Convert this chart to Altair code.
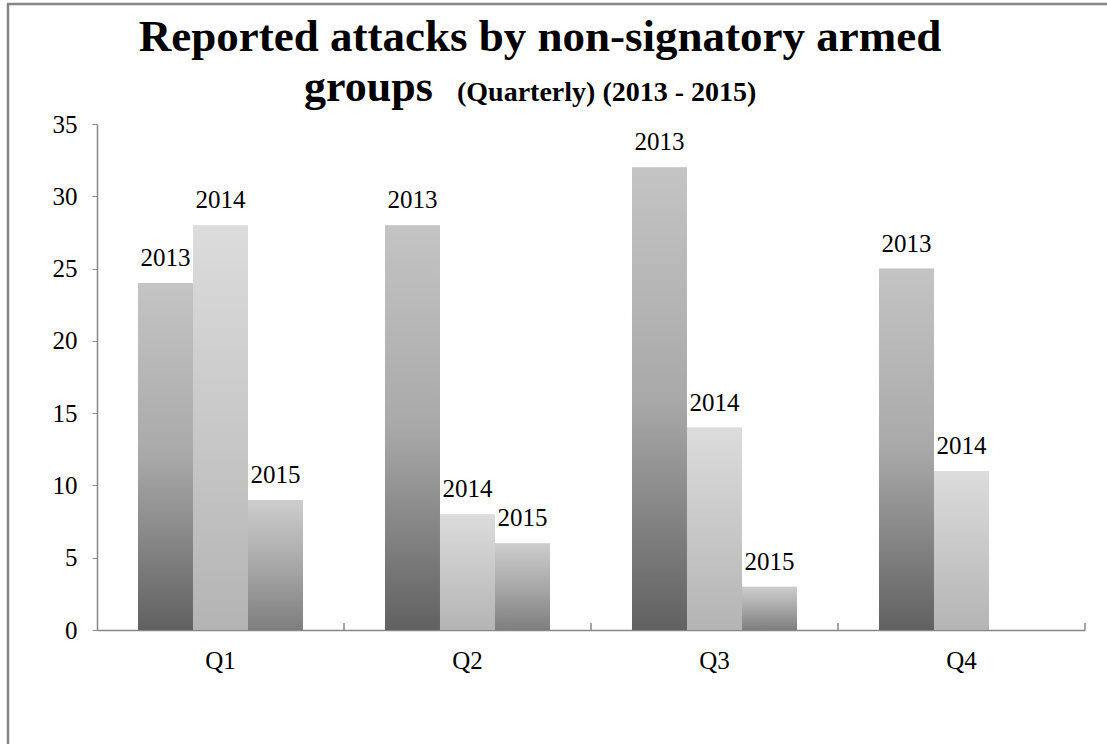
import altair as alt
import pandas as pd

quarters = ["Q1", "Q2", "Q3", "Q4"]
years = ["2013", "2014", "2015"]
values_2013 = [24, 28, 32, 25]
values_2014 = [28, 8, 14, 11]
values_2015 = [9, 6, 3, None]

title_line1 = "Reported attacks by non-signatory armed"
title_line2a = "groups"
title_line2b = "(Quarterly) (2013 - 2015)"

rows = []
for yr, vals in zip(years, [values_2013, values_2014, values_2015]):
    for q, v in zip(quarters, vals):
        if v is not None:
            rows.append({"q": q, "year": yr, "v": v})
df = pd.DataFrame(rows)
qdf = pd.DataFrame({"q": quarters})

W, H = 988, 506
L, T = 97, 124
FONT = "Liberation Serif"
AXC = "#868686"

gradients = {
    "2013": [("#c4c4c4", 0), ("#a9a9a9", 0.5), ("#616161", 1)],
    "2014": [("#dcdcdc", 0), ("#b4b4b4", 1)],
    "2015": [("#cdcdcd", 0), ("#a8a8a8", 0.5), ("#7e7e7e", 1)],
}

x_enc = alt.X("q:N", sort=quarters,
              scale=alt.Scale(domain=quarters, paddingInner=0, paddingOuter=0),
              axis=alt.Axis(title=None, ticks=False, domainColor=AXC, domainWidth=1.5,
                            labelFont=FONT, labelFontSize=25, labelColor="black",
                            labelPadding=18, labelAngle=0))
xo_enc = alt.XOffset("year:N", scale=alt.Scale(domain=years, paddingInner=0, paddingOuter=0.745))
y_enc = alt.Y("v:Q", scale=alt.Scale(domain=[0, 35], nice=False),
              axis=alt.Axis(title=None, values=list(range(0, 36, 5)), grid=False,
                            domainColor=AXC, domainWidth=1.5, tickColor=AXC, tickSize=5,
                            labelFont=FONT, labelFontSize=25, labelColor="black",
                            labelPadding=15))

base = alt.Chart(df)

shadow = base.mark_bar(color="#e8e8e8", xOffset=3).encode(x=x_enc, xOffset=xo_enc, y=y_enc)

layers = [shadow]
for yr in years:
    stops = [alt.GradientStop(color=c, offset=o) for c, o in gradients[yr]]
    layers.append(
        base.transform_filter(alt.datum.year == yr).mark_bar(
            color=alt.LinearGradient(gradient="linear", stops=stops, x1=0, x2=0, y1=0, y2=1)
        ).encode(x=x_enc, xOffset=xo_enc, y=y_enc)
    )

labels = base.mark_text(font=FONT, fontSize=25, baseline="alphabetic", dy=-17, color="black").encode(
    x=x_enc, xOffset=xo_enc, y=y_enc, text="year:N")

xticks = alt.Chart(qdf).mark_rule(color=AXC, strokeWidth=1.5).encode(
    x=alt.X("q:N", sort=quarters, bandPosition=1),
    y=alt.value(H - 7), y2=alt.value(H))

one = pd.DataFrame({"a": [0]})
frame_left = alt.Chart(one).mark_rule(color="#858585", strokeWidth=2.5).encode(
    x=alt.value(8 - L), y=alt.value(3 - T), y2=alt.value(744 - T))
frame_top = alt.Chart(one).mark_rule(color="#858585", strokeWidth=2.5).encode(
    x=alt.value(7 - L), x2=alt.value(1107 - L), y=alt.value(4 - T))

t1 = alt.Chart(pd.DataFrame({"t": [title_line1]})).mark_text(
    font=FONT, fontSize=45, fontWeight="bold", align="center", baseline="alphabetic", color="black"
).encode(x=alt.value(540 - L), y=alt.value(51 - T), text="t:N")
t2 = alt.Chart(pd.DataFrame({"t": [title_line2a]})).mark_text(
    font=FONT, fontSize=44, fontWeight="bold", align="left", baseline="alphabetic", color="black"
).encode(x=alt.value(304 - L), y=alt.value(101 - T), text="t:N")
t3 = alt.Chart(pd.DataFrame({"t": [title_line2b]})).mark_text(
    font=FONT, fontSize=28, fontWeight="bold", align="left", baseline="alphabetic", color="black"
).encode(x=alt.value(457 - L), y=alt.value(101 - T), text="t:N")

chart = alt.layer(frame_left, frame_top, *layers, labels, xticks, t1, t2, t3).properties(
    width=W, height=H,
    autosize=alt.AutoSizeParams(type="none"),
    padding={"left": L, "top": T, "right": 1107 - L - W, "bottom": 744 - T - H},
    background="white",
).configure_view(stroke=None)

chart.save("out.html", embed_options={"renderer": "svg", "actions": False})
